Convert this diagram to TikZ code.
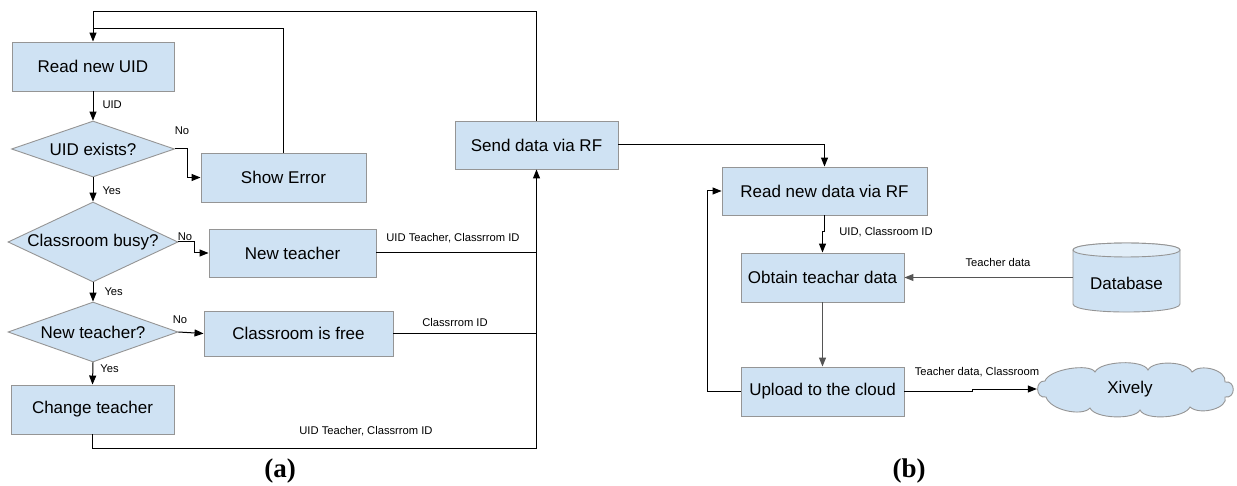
\documentclass[tikz,border=0pt]{standalone}
\usepackage{fontspec}
\setmainfont{Liberation Sans}
\newfontfamily\capfont{Liberation Serif}
\usetikzlibrary{shapes.geometric,arrows.meta,calc}
\definecolor{boxfill}{HTML}{CFE2F3}
\definecolor{dbtop}{HTML}{E2EEF8}
\definecolor{boxdraw}{HTML}{959595}
\definecolor{lgrey}{HTML}{555555}
\begin{document}
\begin{tikzpicture}[x=1pt,y=-1pt,
  box/.style={rectangle,fill=boxfill,draw=boxdraw,line width=0.9pt,inner sep=0pt,
    font=\fontsize{17}{20}\selectfont},
  dec/.style={diamond,fill=boxfill,draw=boxdraw,line width=0.9pt,inner sep=0pt,
    font=\fontsize{17}{20}\selectfont},
  lbl/.style={inner sep=0pt,font=\fontsize{11.2}{13}\selectfont},
  conn/.style={line width=1pt,draw=black},
  arr/.style={conn,-{Triangle[length=9pt,width=7pt]}},
  shapeline/.style={fill=boxfill,draw=boxdraw,line width=0.9pt},
  captxt/.style={inner sep=0pt,font=\capfont\bfseries\fontsize{27}{30}\selectfont}]
\useasboundingbox (0,0) rectangle (1237,486);

% ---- (a) ----
\node[box,minimum width=162pt,minimum height=49pt] (readuid) at (93,66.5) {Read new UID};
\node[dec,minimum width=163pt,minimum height=56pt] (uidex) at (93,149) {\makebox[0pt]{UID exists?}};
\node[box,minimum width=165pt,minimum height=49pt] (showerr) at (283.5,177.5) {Show Error};
\node[dec,minimum width=170pt,minimum height=80pt] (busy) at (93,242) {\makebox[0pt]{Classroom busy?}};
\node[box,minimum width=167pt,minimum height=48pt] (newt) at (292.5,253) {New teacher};
\node[dec,minimum width=170pt,minimum height=60pt] (newq) at (93,332) {\makebox[0pt]{New teacher?}};
\node[box,minimum width=189pt,minimum height=45pt] (free) at (298.5,333.5) {Classroom is free};
\node[box,minimum width=163pt,minimum height=49pt] (change) at (92.5,409.5) {Change teacher};
\node[box,minimum width=163pt,minimum height=48pt] (send) at (536.5,145) {Send data via RF};

\draw[arr] (send.north) |- ($(readuid.north)+(0,-30)$) -- (readuid.north);
\draw[conn] (showerr.north) |- ($(readuid.north)+(0,-13)$);
\draw[arr] (readuid.south) -- node[lbl,right=9pt,pos=0.45]{UID} (uidex.north);
\draw[arr] (uidex.east) -- ++(13,0) |- (showerr.west);
\node[lbl] (no1) at (182,131) {No};
\draw[arr] (uidex.south) -- node[lbl,right=9pt,pos=0.55]{Yes} (busy.north);
\draw[arr] (busy.east) -- ++(16,0) |- (newt.west);
\node[lbl] (no2) at (185,237) {No};
\draw[arr] (busy.south) -- node[lbl,right=11pt,pos=0.5]{Yes} (newq.north);
\draw[arr] (newq.east) -- (free.west);
\node[lbl] (no3) at (180,320) {No};
\draw[arr] (newq.south) -- node[lbl,right=7pt,pos=0.3]{Yes} (change.north);
\draw[conn] (newt.east) -- (send.south |- newt.east);
\node[lbl] (l1) at (453,238) {UID Teacher, Classrrom ID};
\draw[conn] (free.east) -- (send.south |- free.east);
\node[lbl] (l2) at (455,322) {Classrrom ID};
\draw[arr] (change.south) -- ++(0,14) -| (send.south);
\node[lbl] (l3) at (366,431) {UID Teacher, Classrrom ID};
\node[captxt] (capa) at (280,471) {(a)};

% ---- (b) ----
\node[box,minimum width=205pt,minimum height=48pt] (readrf) at (824.5,191) {Read new data via RF};
\node[box,minimum width=163pt,minimum height=49pt] (obtain) at (822.5,277.5) {Obtain teachar data};
\node[box,minimum width=163pt,minimum height=49pt] (upload) at (822.5,391.5) {Upload to the cloud};
% database cylinder
\node[inner sep=0pt,minimum width=107pt,minimum height=69pt] (db) at (1126.5,277.5) {};
\path[shapeline] (1073,250) -- (1073,304)
  .. controls (1073,314.7) and (1180,314.7) .. (1180,304) -- (1180,250)
  .. controls (1180,240.7) and (1073,240.7) .. (1073,250) -- cycle;
\path[shapeline,fill=dbtop] (1073,250)
  .. controls (1073,240.7) and (1180,240.7) .. (1180,250)
  .. controls (1180,259.3) and (1073,259.3) .. (1073,250) -- cycle;
\node[inner sep=0pt,font=\fontsize{17}{20}\selectfont] (dbtext) at (1126.5,283) {Database};
% cloud
\path[shapeline] (1045,381)
  .. controls (1049,369) and (1090,363) .. (1095,372)
  .. controls (1100,361) and (1143,359) .. (1148,370)
  .. controls (1153,360) and (1187,361) .. (1192,372)
  .. controls (1200,363) and (1227,370) .. (1225,382)
  .. controls (1236,380) and (1236,399) .. (1225,397)
  .. controls (1229,408) and (1200,416) .. (1190,407)
  .. controls (1185,418) and (1145,421) .. (1140,410)
  .. controls (1135,420) and (1095,419) .. (1090,408)
  .. controls (1082,417) and (1050,410) .. (1046,397)
  .. controls (1035,399) and (1035,380) .. (1045,381) -- cycle;
\node[inner sep=0pt,minimum width=198pt,minimum height=50pt,font=\fontsize{17}{20}\selectfont]
  (xively) at (1136,389) {\makebox[0pt]{\hspace*{-12pt}Xively}};

\draw[arr] (send.east) -| (readrf.north);
\draw[arr] (readrf.south) -- ++(0,16) -| (obtain.north);
\node[lbl] (l4) at (886,232) {UID, Classroom ID};
\draw[arr,draw=lgrey] (db.west) -- (obtain.east);
\node[lbl] (l5) at (998,262) {Teacher data};
\draw[arr,draw=lgrey] (obtain.south) -- (upload.north);
\draw[arr] (upload.west) -- ++(-33,0) |- (readrf.west);
\draw[arr] (upload.east) -- (972,391.5) |- (xively.west);
\node[lbl] (l6) at (977,372) {Teacher data, Classroom};
\node[captxt] (capb) at (909,471) {(b)};
\end{tikzpicture}
\end{document}
